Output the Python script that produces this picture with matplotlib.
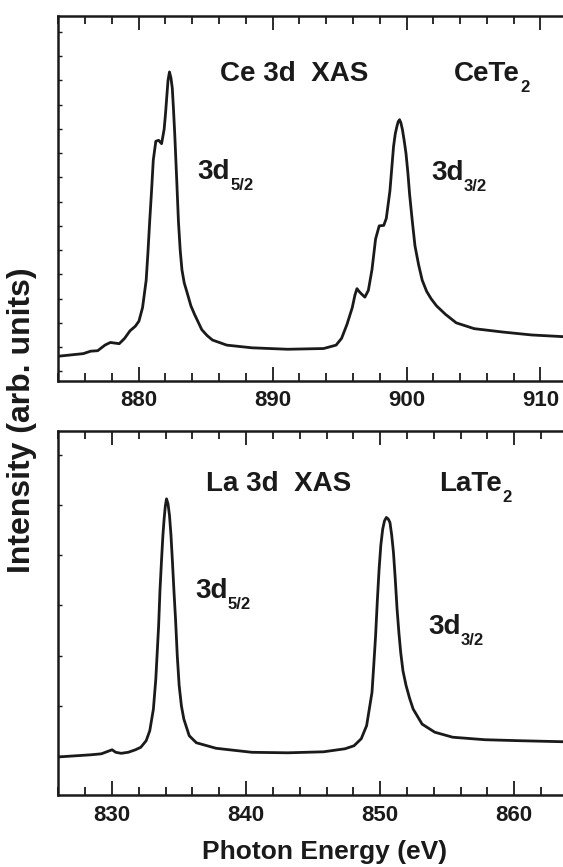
import matplotlib
matplotlib.use('Agg')
import matplotlib.pyplot as plt
from matplotlib.ticker import MultipleLocator
from matplotlib.transforms import IdentityTransform

# Ce 3d XAS, CeTe2
ce_energy = [874.13, 875.87, 876.41, 876.94, 877.48, 877.88, 878.28, 878.55, 878.95, 879.35,
             879.75, 880.02, 880.29, 880.56, 880.69, 880.82, 880.96, 881.09, 881.28, 881.49,
             881.71, 881.90, 882.00, 882.19, 882.30, 882.41, 882.51, 882.60, 882.70, 882.84,
             882.97, 883.10, 883.23, 883.40, 883.64, 883.90, 884.17, 884.71, 885.10, 885.51,
             886.58, 888.45, 891.13, 893.81, 894.74, 895.15, 895.55, 895.95, 896.15, 896.30,
             896.45, 896.62, 896.89, 897.15, 897.42, 897.69, 897.96, 898.30, 898.49, 898.76,
             899.03, 899.16, 899.29, 899.38, 899.48, 899.58, 899.69, 899.83, 899.96, 900.10,
             900.23, 900.43, 900.63, 900.90, 901.17, 901.50, 901.84, 902.24, 902.91, 903.71,
             905.05, 907.19, 909.33, 911.69]
ce_intensity = [0.63, 0.73, 0.83, 0.85, 1.08, 1.19, 1.16, 1.14, 1.36, 1.67,
                1.86, 2.07, 2.63, 3.76, 4.89, 6.17, 7.43, 8.71, 9.49, 9.53,
                9.39, 9.98, 10.60, 12.00, 12.35, 12.10, 11.68, 10.80, 9.70, 7.90,
                6.17, 5.00, 4.19, 3.65, 3.20, 2.70, 2.35, 1.72, 1.48, 1.29,
                1.08, 0.97, 0.91, 0.94, 1.08, 1.36, 1.93, 2.63, 3.15, 3.41,
                3.30, 3.20, 3.06, 3.34, 4.19, 5.46, 6.00, 6.02, 6.31, 7.44,
                9.27, 9.80, 10.12, 10.30, 10.38, 10.25, 9.98, 9.50, 8.99, 8.20,
                7.30, 6.20, 5.18, 4.40, 3.76, 3.30, 2.99, 2.70, 2.35, 2.00,
                1.76, 1.62, 1.50, 1.43]

# La 3d XAS, LaTe2
la_energy = [826.13, 828.41, 829.21, 829.61, 830.01, 830.28, 830.68, 831.21, 831.75, 832.15,
             832.55, 832.82, 833.09, 833.27, 833.48, 833.58, 833.70, 833.80, 833.89, 833.98,
             834.07, 834.18, 834.29, 834.40, 834.50, 834.62, 834.74, 834.87, 835.01, 835.18,
             835.36, 835.76, 836.29, 837.76, 840.43, 843.11, 845.78, 847.38, 848.05, 848.59,
             848.99, 849.39, 849.52, 849.66, 849.79, 849.92, 850.05, 850.19, 850.32, 850.46,
             850.60, 850.73, 850.86, 850.99, 851.12, 851.26, 851.40, 851.53, 851.70, 851.93,
             852.20, 852.46, 853.13, 854.07, 855.40, 857.81, 860.48, 863.64]
la_intensity = [-0.01, 0.03, 0.05, 0.09, 0.13, 0.08, 0.06, 0.08, 0.13, 0.18,
                0.31, 0.51, 0.94, 1.54, 2.60, 3.30, 3.92, 4.40, 4.72, 4.98,
                5.12, 5.02, 4.79, 4.40, 3.92, 3.30, 2.73, 2.00, 1.41, 1.00,
                0.74, 0.41, 0.27, 0.16, 0.08, 0.07, 0.09, 0.15, 0.21, 0.35,
                0.61, 1.27, 1.80, 2.40, 3.10, 3.72, 4.20, 4.52, 4.68, 4.75,
                4.72, 4.65, 4.40, 4.06, 3.55, 2.93, 2.45, 2.07, 1.70, 1.41,
                1.15, 0.94, 0.64, 0.48, 0.38, 0.33, 0.31, 0.29]

plt.rcParams['font.family'] = ['Liberation Sans', 'DejaVu Sans']
plt.rcParams['font.weight'] = 'bold'

ink = '#1a1a1a'
fig = plt.figure(figsize=(5.63, 8.67), dpi=100)
ax1 = fig.add_axes([0.1036, 0.5611, 0.9032, 0.4208])
ax2 = fig.add_axes([0.1036, 0.0830, 0.9051, 0.4202])


def style(ax, xlim, ylim):
    ax.set_xlim(*xlim)
    ax.set_ylim(*ylim)
    ax.xaxis.set_major_locator(MultipleLocator(10))
    ax.xaxis.set_minor_locator(MultipleLocator(2))
    ax.yaxis.set_major_locator(MultipleLocator(1))
    ax.tick_params(axis='x', which='both', direction='in', top=True, bottom=True,
                   labelsize=16, pad=7, colors=ink, width=1.3)
    ax.tick_params(axis='x', which='major', length=10)
    ax.tick_params(axis='x', which='minor', length=6)
    ax.tick_params(axis='y', which='both', direction='in', left=True, right=False,
                   labelleft=False, length=3, width=1.0, colors=ink)
    for lab in ax.get_xticklabels():
        lab.set_fontweight('bold')
    for s in ax.spines.values():
        s.set_linewidth(1.8)
        s.set_color(ink)


def label(ax, x, y, main, sub=None):
    # main text on its baseline, small subscript hung just below the baseline
    t = ax.text(x, y, main, fontsize=20, va='baseline', color=ink)
    if sub:
        bb = t.get_window_extent(renderer=fig.canvas.get_renderer())
        xd, yd = ax.transData.transform((x, y))
        fig.text(bb.x1 + 0.5, yd + 1, sub, fontsize=12, va='top', color=ink,
                 transform=IdentityTransform())


ax1.plot(ce_energy, ce_intensity, color=ink, lw=2.0, solid_joinstyle='round')
style(ax1, (874, 911.97), (-0.38, 14.67))
label(ax1, 886.05, 11.96, 'Ce 3d  XAS')
label(ax1, 903.55, 11.96, 'CeTe', '2')
label(ax1, 884.36, 7.93, '3d', '5/2')
label(ax1, 901.83, 7.89, '3d', '3/2')

ax2.plot(la_energy, la_intensity, color=ink, lw=2.0, solid_joinstyle='round')
style(ax2, (826, 864.0), (-0.77, 6.475))
label(ax2, 837.01, 5.28, 'La 3d  XAS')
label(ax2, 854.43, 5.28, 'LaTe', '2')
label(ax2, 836.19, 3.14, '3d', '5/2')
label(ax2, 853.57, 2.43, '3d', '3/2')

fig.text(0.577, 0.017, 'Photon Energy (eV)', fontsize=19, fontweight='bold',
         color=ink, ha='center', va='center')
fig.text(0.039, 0.5156, 'Intensity (arb. units)', rotation=90, fontsize=23,
         fontweight='bold', color=ink, ha='center', va='center')

fig.savefig('out.png', dpi=100)
